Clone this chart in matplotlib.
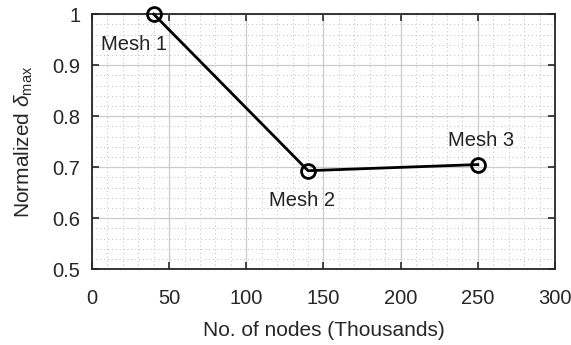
import matplotlib
matplotlib.use('Agg')
import matplotlib.pyplot as plt
from matplotlib.ticker import MultipleLocator

# mesh convergence data
nodes = [40, 140, 250]          # thousands of nodes
delta = [1.0, 0.693, 0.705]     # normalized max deflection
labels = ['Mesh 1', 'Mesh 2', 'Mesh 3']
label_pos = [(27, 0.94), (136, 0.635), (252, 0.753)]

plt.rcParams['font.family'] = ['Liberation Sans', 'DejaVu Sans']
plt.rcParams['mathtext.fontset'] = 'custom'
plt.rcParams['mathtext.rm'] = 'Liberation Sans'
plt.rcParams['mathtext.it'] = 'Liberation Sans:italic'

fig = plt.figure(figsize=(5.71, 3.45), dpi=100)
ax = fig.add_axes([0.161, 0.22, 0.811, 0.739])

ax.plot(nodes, delta, color='black', linewidth=2, marker='o', markersize=10,
        markerfacecolor='none', markeredgewidth=2, zorder=5, clip_on=False)

for lab, (lx, ly) in zip(labels, label_pos):
    ax.text(lx, ly, lab, ha='center', va='center', fontsize=14.5, color='#222222')

ax.set_xlim(0, 300)
ax.set_ylim(0.5, 1)
ax.xaxis.set_major_locator(MultipleLocator(50))
ax.xaxis.set_minor_locator(MultipleLocator(10))
ax.yaxis.set_minor_locator(MultipleLocator(0.02))
ax.set_yticks([0.5, 0.6, 0.7, 0.8, 0.9, 1.0])
ax.set_yticklabels(['0.5', '0.6', '0.7', '0.8', '0.9', '1'])

ax.grid(which='major', color='#cccccc', linewidth=0.9)
ax.grid(which='minor', color='#bdbdbd', linewidth=0.7, linestyle=(0, (1, 3)))
ax.set_axisbelow(True)

ax.tick_params(which='major', direction='in', length=5, width=1.2, top=True,
               right=True, labelsize=14.5, colors='#262626')
ax.tick_params(axis='x', pad=14)
ax.tick_params(axis='y', pad=8.5)
ax.tick_params(which='minor', length=0, top=True, right=True)
for s in ax.spines.values():
    s.set_color('#262626')
    s.set_linewidth(1.3)

ax.set_xlabel('No. of nodes (Thousands)', fontsize=15, color='#262626', labelpad=10)
ax.set_ylabel(r'Normalized $\delta_{\max}$', fontsize=15, color='#262626', labelpad=12.5)

fig.savefig('out.png', dpi=100)
